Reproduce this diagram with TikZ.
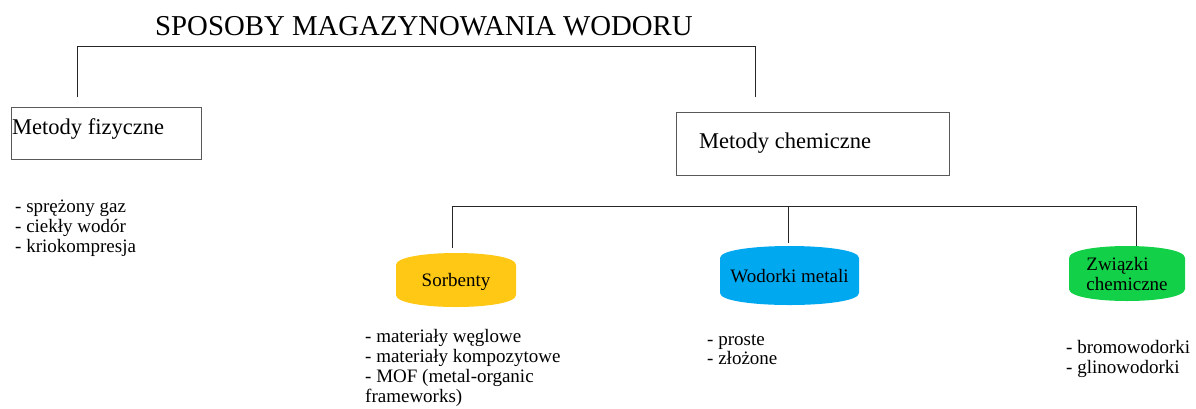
\documentclass[tikz,border=0pt]{standalone}
\usepackage{fontspec}
\setmainfont{Liberation Serif}
\definecolor{sorbc}{RGB}{255,200,20}
\definecolor{wodc}{RGB}{0,168,240}
\definecolor{zwc}{RGB}{18,209,72}
\begin{document}
\begin{tikzpicture}[x=1pt,y=-1pt,
  conn/.style={draw=black!85, line width=0.9pt},
  mbox/.style={draw=black!65, line width=1.2pt, rectangle, inner sep=0pt, anchor=north west},
  boxtext/.style={font=\fontsize{22.5}{26}\selectfont, anchor=base west, inner sep=0pt},
  item/.style={font=\fontsize{19}{20}\selectfont, anchor=base west, inner sep=0pt},
  barrel/.style={rectangle, inner sep=0pt, text depth=0pt, align=left,
    font=\fontsize{19}{20}\selectfont,
    path picture={\fill[#1]
      ([yshift=-12pt]path picture bounding box.north west)
      .. controls ([yshift=4pt]path picture bounding box.north west)
      and ([yshift=4pt]path picture bounding box.north east)
      .. ([yshift=-12pt]path picture bounding box.north east)
      -- ([yshift=12pt]path picture bounding box.south east)
      .. controls ([yshift=-4pt]path picture bounding box.south east)
      and ([yshift=-4pt]path picture bounding box.south west)
      .. ([yshift=12pt]path picture bounding box.south west) -- cycle;}}
]
\useasboundingbox (0,0) rectangle (1196,408);

% title
\node[font=\fontsize{28.8}{32}\selectfont, anchor=base, inner sep=0pt] (title) at (424,35) {SPOSOBY MAGAZYNOWANIA WODORU};

% main boxes
\node[mbox, minimum width=190pt, minimum height=52pt] (fiz) at (11,107) {};
\node[boxtext] (fizt) at (12,134) {Metody fizyczne};
\node[mbox, minimum width=273pt, minimum height=63pt] (chem) at (676,112) {};
\node[boxtext] (chemt) at (699,148) {Metody chemiczne};

% bracket
\coordinate (bl) at (77,97);
\coordinate (br) at (755,97);
\draw[conn] (bl) -- ++(0,-51) -| (br);

% barrels
\node[barrel=sorbc, minimum width=120pt, minimum height=54pt] (sorb) at (456,280) {Sorbenty};
\node[barrel=wodc, minimum width=139pt, minimum height=59pt] (wod) at (789.5,275.5) {Wodorki metali};
\node[barrel=zwc, minimum width=116pt, minimum height=55pt] (zw) at (1127,273.5) {Związki\\chemiczne};

% chemical branch
\draw[conn] ([xshift=-3.5pt,yshift=5pt]sorb.north) -- ++(0,-41) -| ([xshift=9pt]zw.north);
\draw[conn] ([xshift=-1pt,yshift=3pt]wod.north) -- ++(0,-36);

% lists
\node[item] (f1) at (15,212) {- sprężony gaz};
\node[item] (f2) at (15,232) {- ciekły wodór};
\node[item] (f3) at (15,252) {- kriokompresja};

\node[item] (s1) at (365,342) {- materiały węglowe};
\node[item] (s2) at (365,362) {- materiały kompozytowe};
\node[item] (s3) at (365,382) {- MOF (metal-organic};
\node[item] (s4) at (365,402) {frameworks)};

\node[item] (w1) at (707,345) {- proste};
\node[item] (w2) at (707,364) {- złożone};

\node[item] (z1) at (1066,353) {- bromowodorki};
\node[item] (z2) at (1066,373) {- glinowodorki};
\end{tikzpicture}
\end{document}
